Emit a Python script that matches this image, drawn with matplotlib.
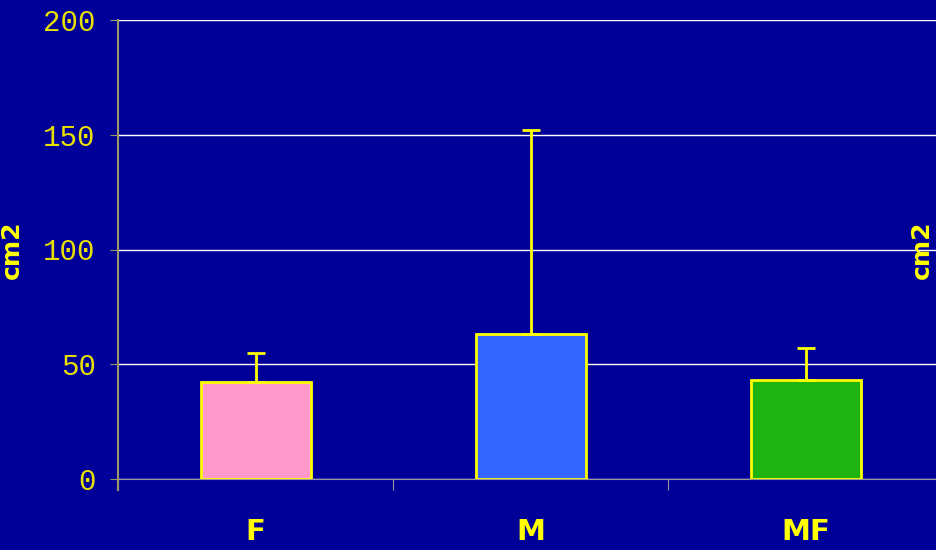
import numpy as np
import matplotlib.pyplot as plt

categories = ['F', 'M', 'MF']
means = [42.3, 63.2, 43.1]
errors_up = [12.6, 88.9, 14.0]
bar_colors = ['#FF99CC', '#3366FF', '#1FB312']
yticks = [0, 50, 100, 150, 200]

bg = '#000099'
yellow = '#FFFF00'

fig = plt.figure(figsize=(9.37, 5.5), dpi=100)
fig.patch.set_facecolor(bg)
ax = fig.add_axes([118 / 937, 1 - 479 / 550, 1 - 118 / 937, (479 - 20) / 550])
ax.set_facecolor(bg)

x = np.arange(len(categories))
ax.bar(x, means, width=0.40, color=bar_colors, edgecolor=yellow, linewidth=2, zorder=3)
ax.errorbar(x, means, yerr=[[0] * len(x), errors_up], fmt='none', ecolor=yellow,
            elinewidth=2, capsize=6.5, capthick=2, zorder=4)

ax.set_ylim(0, 200)
ax.set_xlim(-0.5, -0.5 + (937 - 118) / 275)
ax.set_yticks(yticks)
ax.set_yticklabels([str(v) for v in yticks], family='Liberation Mono',
                   fontsize=21, color='#E8E000')
ax.tick_params(axis='y', length=6, color='#999966', pad=10)

ax.set_xticks([-0.5, 0.5, 1.5])
ax.set_xticklabels([])
ax.tick_params(axis='x', which='major', length=8, color='#999999')
ax.set_xticks(x, minor=True)
ax.set_xticklabels(categories, minor=True, fontsize=21, fontweight='bold', color=yellow)
ax.tick_params(axis='x', which='minor', length=0, pad=28)

ax.grid(axis='y', color='white', linewidth=1, zorder=1)
for s in ['top', 'right']:
    ax.spines[s].set_visible(False)
ax.spines['left'].set_color('#999966')
ax.spines['left'].set_linewidth(1.5)
ax.spines['left'].set_bounds(-5, 200)
ax.spines['bottom'].set_color('#999999')
ax.spines['bottom'].set_zorder(2)

fig.text(12 / 937, 1 - 250 / 550, 'cm2', rotation=90, ha='center', va='center',
         fontsize=18, fontweight='bold', color=yellow)
fig.text(922 / 937, 1 - 250 / 550, 'cm2', rotation=90, ha='center', va='center',
         fontsize=18, fontweight='bold', color=yellow)

fig.savefig('out.png', facecolor=bg)
